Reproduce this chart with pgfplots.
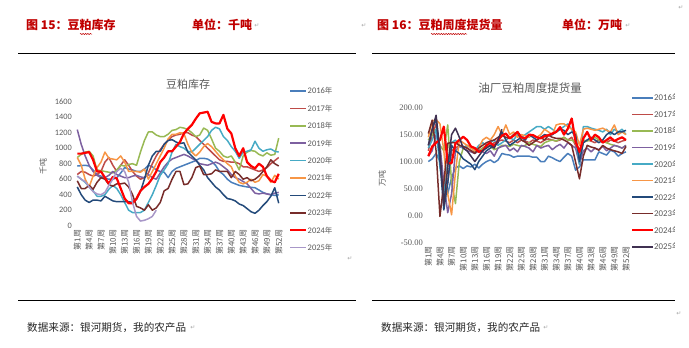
\documentclass[border=0pt]{standalone}
\usepackage{fontspec}
\usepackage{pgfplots}
\pgfplotsset{compat=1.18}
\usetikzlibrary{decorations.pathmorphing}
\setmainfont{Liberation Serif}
\newfontfamily\cjk{Noto Sans CJK SC}
\newfontfamily\carl{Carlito}
\newfontfamily\dv{DejaVu Sans}
\definecolor{c16}{HTML}{4A7EBB}
\definecolor{c17}{HTML}{BE4B48}
\definecolor{c18}{HTML}{98B954}
\definecolor{c19}{HTML}{7D60A0}
\definecolor{c20}{HTML}{46AAC5}
\definecolor{c21}{HTML}{F79646}
\definecolor{c22}{HTML}{234A7A}
\definecolor{c23}{HTML}{772C2A}
\definecolor{c24}{HTML}{FF0000}
\definecolor{c25L}{HTML}{A897C8}
\definecolor{c25R}{HTML}{403152}
\definecolor{hdr}{HTML}{C00000}
\definecolor{tg}{HTML}{595959}
\pgfplotsset{
  basechart/.style={
    scale only axis, anchor=south west,
    xmin=0.5, xmax=52.5,
    axis line style={draw=none}, tick style={draw=none},
    xtick={1,4,...,52},
    xticklabels={第1周,第4周,第7周,第10周,第13周,第16周,第19周,第22周,第25周,第28周,第31周,第34周,第37周,第40周,第43周,第46周,第49周,第52周},
    xticklabel style={rotate=90, anchor=east, font=\cjk\fontsize{8}{8}\selectfont, text=tg, inner sep=1pt},
    xticklabel shift={3pt},
    every axis plot/.append style={no markers, line width=1.5pt, line join=round},
  }
}
\begin{document}
\begin{tikzpicture}
\path[use as bounding box] (0,0) rectangle (689pt,-348pt);
% headers
\node[anchor=west, inner sep=0pt, text=hdr, font=\cjk\bfseries\fontsize{12}{12}\selectfont] at (26pt,-25pt) {图 15：豆粕库存};
\node[anchor=west, inner sep=0pt, text=hdr, font=\cjk\bfseries\fontsize{12}{12}\selectfont] at (192pt,-25pt) {单位：千吨};
\node[anchor=west, inner sep=0pt, text=hdr, font=\cjk\bfseries\fontsize{12}{12}\selectfont] at (377pt,-25pt) {图 16：豆粕周度提货量};
\node[anchor=west, inner sep=0pt, text=hdr, font=\cjk\bfseries\fontsize{12}{12}\selectfont] at (562pt,-25pt) {单位：万吨};
\draw[hdr, line width=0.5pt, decorate, decoration={snake, amplitude=0.6pt, segment length=2.4pt}] (80pt,-34pt) -- (92pt,-34pt);
\draw[hdr, line width=0.5pt, decorate, decoration={snake, amplitude=0.6pt, segment length=2.4pt}] (431pt,-34pt) -- (467pt,-34pt);
% return marks
\foreach \px/\py in {681/8, 257/26, 364/26, 628/26, 350/259, 679/314, 193/328, 546/328}
  \node[text=gray!70, font=\dv\fontsize{6}{6}\selectfont, inner sep=0pt] at (\px pt,-\py pt) {↵};
% rules
\draw[black, line width=0.8pt] (18pt,-53pt) -- (356pt,-53pt);
\draw[black, line width=0.8pt] (372pt,-53pt) -- (675pt,-53pt);
\draw[black, line width=0.8pt] (18pt,-300pt) -- (356pt,-300pt);
\draw[black, line width=0.8pt] (372pt,-300pt) -- (675pt,-300pt);
% footers
\node[anchor=west, inner sep=0pt, text=black!85, font=\cjk\fontsize{10.6}{11}\selectfont] at (27pt,-328pt) {数据来源：银河期货，我的农产品};
\node[anchor=west, inner sep=0pt, text=black!85, font=\cjk\fontsize{10.6}{11}\selectfont] at (381pt,-328pt) {数据来源：银河期货，我的农产品};
% titles and axis titles
\node[text=tg, font=\cjk\fontsize{11}{11}\selectfont] at (188pt,-84pt) {豆粕库存};
\node[text=tg, font=\cjk\fontsize{11.5}{12}\selectfont] at (530pt,-88pt) {油厂豆粕周度提货量};
\node[text=tg, rotate=90, font=\cjk\fontsize{8}{9}\selectfont] at (43pt,-166pt) {千吨};
\node[text=tg, rotate=90, font=\cjk\fontsize{8}{9}\selectfont] at (382pt,-178pt) {万吨};

% ---------------- left chart
\begin{axis}[basechart, at={(75.3pt,-225.7pt)}, width=205.4pt, height=124pt,
  ymin=0, ymax=1600, ytick={0,200,...,1600},
  yticklabels={0,200,400,600,800,1000,1200,1400,1600},
  yticklabel style={font=\carl\fontsize{8.3}{9}\selectfont, text=tg},
  clip=false]
\addplot[c16] coordinates {(1,770)(2,775)(3,780)(4,770)(5,720)(6,660)(7,640)(8,610)(9,600)(10,600)(11,620)(12,680)(13,750)(14,730)(15,720)(16,700)(17,700)(18,730)(19,780)(20,760)(21,720)(22,700)(23,690)(24,620)(25,700)(26,740)(27,760)(28,780)(29,800)(30,820)(31,840)(32,870)(33,870)(34,860)(35,830)(36,780)(37,700)(38,660)(39,600)(40,560)(41,540)(42,520)(43,510)(44,500)(45,495)(46,490)(47,460)(48,430)(49,410)(50,400)(51,390)(52,400)};
\addplot[c17] coordinates {(1,660)(2,700)(3,690)(4,660)(5,640)(6,660)(7,700)(8,820)(9,880)(10,780)(11,700)(12,780)(13,850)(14,780)(15,700)(16,640)(17,600)(18,620)(19,680)(20,800)(21,900)(22,980)(23,1050)(24,1100)(25,1150)(26,1170)(27,1180)(28,1200)(29,1200)(30,1170)(31,1150)(32,1100)(33,1050)(34,1000)(35,950)(36,900)(37,850)(38,830)(39,830)(40,820)(41,820)(42,800)(43,760)(44,760)(45,740)(46,720)(47,700)(48,720)(49,750)(50,800)(51,840)(52,880)};
\addplot[c18] coordinates {(1,880)(2,920)(3,950)(4,960)(5,900)(6,720)(7,710)(8,700)(9,690)(10,680)(11,720)(12,780)(13,770)(14,790)(15,800)(16,780)(17,950)(18,1100)(19,1210)(20,1210)(21,1170)(22,1150)(23,1150)(24,1180)(25,1230)(26,1240)(27,1270)(28,1260)(29,1240)(30,1200)(31,1150)(32,1170)(33,1260)(34,1230)(35,1120)(36,1000)(37,960)(38,900)(39,880)(40,900)(41,820)(42,720)(43,900)(44,950)(45,970)(46,960)(47,920)(48,900)(49,940)(50,910)(51,920)(52,1130)};
\addplot[c19] coordinates {(1,1240)(2,1050)(3,900)(4,780)(5,700)(6,650)(7,620)(8,620)(9,650)(10,700)(11,660)(12,640)(13,620)(14,620)(15,640)(16,650)(17,630)(18,620)(19,660)(20,620)(21,600)(22,680)(23,760)(24,820)(25,860)(26,880)(27,900)(28,920)(29,900)(30,870)(31,840)(32,800)(33,790)(34,780)(35,800)(36,820)(37,800)(38,760)(39,720)(40,660)(41,620)(42,600)(43,570)(44,540)(45,480)(46,420)(47,410)(48,420)(49,410)(50,400)(51,420)(52,430)};
\addplot[c20] coordinates {(1,640)(2,600)(3,560)(4,500)(5,450)(6,380)(7,380)(8,400)(9,470)(10,520)(11,480)(12,400)(13,300)(14,200)(15,170)(16,170)(17,170)(18,200)(19,300)(20,400)(21,520)(22,650)(23,720)(24,800)(25,950)(26,1050)(27,1020)(28,1000)(29,960)(30,950)(31,1000)(32,1050)(33,1100)(34,1150)(35,1230)(36,1270)(37,1250)(38,1150)(39,1100)(40,1020)(41,960)(42,870)(43,950)(44,960)(45,980)(46,1090)(47,1000)(48,960)(49,980)(50,990)(51,960)(52,950)};
\addplot[c21] coordinates {(1,880)(2,780)(3,600)(4,500)(5,640)(6,750)(7,820)(8,950)(9,870)(10,860)(11,850)(12,900)(13,820)(14,700)(15,700)(16,700)(17,690)(18,730)(19,600)(20,700)(21,800)(22,900)(23,1000)(24,1120)(25,1180)(26,1180)(27,1200)(28,1190)(29,1050)(30,950)(31,900)(32,950)(33,1020)(34,1060)(35,1020)(36,960)(37,900)(38,850)(39,800)(40,760)(41,640)(42,560)(43,540)(44,560)(45,600)(46,560)(47,580)(48,660)(49,640)(50,560)(51,650)(52,600)};
\addplot[c22] coordinates {(1,500)(2,400)(3,330)(4,300)(5,330)(6,330)(7,320)(8,380)(9,350)(10,320)(11,310)(12,310)(13,310)(14,310)(15,300)(16,340)(17,440)(18,600)(19,780)(20,900)(21,960)(22,960)(23,1050)(24,1100)(25,1110)(26,1080)(27,1060)(28,1070)(29,950)(30,900)(31,850)(32,780)(33,720)(34,620)(35,560)(36,500)(37,460)(38,400)(39,350)(40,340)(41,320)(42,280)(43,260)(44,220)(45,180)(46,160)(47,200)(48,260)(49,310)(50,380)(51,490)(52,290)};
\addplot[c23] coordinates {(1,580)(2,480)(3,480)(4,520)(5,470)(6,560)(7,620)(8,600)(9,530)(10,510)(11,540)(12,540)(13,550)(14,500)(15,400)(16,250)(17,230)(18,200)(19,270)(20,200)(21,230)(22,300)(23,450)(24,480)(25,600)(26,700)(27,700)(28,530)(29,540)(30,620)(31,750)(32,770)(33,660)(34,660)(35,670)(36,720)(37,700)(38,700)(39,700)(40,620)(41,700)(42,660)(43,600)(44,620)(45,580)(46,600)(47,640)(48,700)(49,760)(50,850)(51,800)(52,770)};
\addplot[c24, line width=2.2pt] coordinates {(1,930)(2,930)(3,940)(4,950)(5,850)(6,700)(7,700)(8,620)(9,540)(10,630)(11,610)(12,480)(13,350)(14,290)(15,290)(16,350)(17,450)(18,500)(19,540)(20,610)(21,700)(22,820)(23,880)(24,960)(25,960)(26,1020)(27,1080)(28,1190)(29,1250)(30,1300)(31,1380)(32,1450)(33,1460)(34,1470)(35,1340)(36,1320)(37,1320)(38,1430)(39,1250)(40,1190)(41,1000)(42,900)(43,1000)(44,820)(45,770)(46,740)(47,800)(48,760)(49,640)(50,580)(51,560)(52,670)};
\addplot[c25L] coordinates {(1,640)(2,600)(3,570)(4,500)(5,440)(6,410)(7,400)(8,430)(9,520)(10,600)(11,700)(12,740)(13,700)(14,560)(15,300)(16,120)(17,60)(18,70)(19,90)(20,120)(21,200)};
\end{axis}

% ---------------- right chart
\begin{axis}[basechart, at={(426.4pt,-242.3pt)}, width=201.5pt, height=134.6pt,
  ymin=-50, ymax=200, ytick={-50,0,50,100,150,200},
  yticklabels={-50.00,0.00,50.00,100.00,150.00,200.00},
  yticklabel style={font=\fontsize{8.5}{9}\selectfont, text=tg},
  clip=false]
\addplot[c16] coordinates {(1,100)(2,105)(3,115)(4,100)(5,55)(6,40)(7,70)(8,88)(9,92)(10,87)(11,92)(12,90)(13,95)(14,88)(15,95)(16,100)(17,103)(18,98)(19,103)(20,115)(21,113)(22,112)(23,108)(24,110)(25,110)(26,110)(27,110)(28,108)(29,108)(30,100)(31,100)(32,110)(33,107)(34,103)(35,100)(36,108)(37,115)(38,110)(39,84)(40,90)(41,103)(42,103)(43,103)(44,103)(45,118)(46,115)(47,112)(48,121)(49,118)(50,110)(51,115)(52,118)};
\addplot[c17] coordinates {(1,120)(2,150)(3,170)(4,120)(5,30)(6,60)(7,120)(8,125)(9,130)(10,128)(11,125)(12,120)(13,118)(14,120)(15,125)(16,128)(17,130)(18,135)(19,138)(20,140)(21,138)(22,135)(23,140)(24,135)(25,140)(26,138)(27,135)(28,140)(29,138)(30,135)(31,140)(32,142)(33,140)(34,138)(35,140)(36,145)(37,140)(38,145)(39,130)(40,110)(41,135)(42,140)(43,138)(44,135)(45,140)(46,138)(47,135)(48,140)(49,138)(50,135)(51,138)(52,140)};
\addplot[c18] coordinates {(1,140)(2,150)(3,160)(4,130)(5,120)(6,168)(7,60)(8,22)(9,100)(10,125)(11,130)(12,128)(13,120)(14,118)(15,125)(16,130)(17,128)(18,122)(19,125)(20,130)(21,130)(22,128)(23,132)(24,130)(25,128)(26,130)(27,135)(28,132)(29,130)(30,128)(31,135)(32,138)(33,140)(34,138)(35,142)(36,145)(37,140)(38,140)(39,135)(40,120)(41,140)(42,138)(43,142)(44,145)(45,140)(46,138)(47,135)(48,132)(49,130)(50,128)(51,125)(52,130)};
\addplot[c19] coordinates {(1,110)(2,120)(3,150)(4,130)(5,60)(6,5)(7,40)(8,120)(9,128)(10,125)(11,120)(12,118)(13,115)(14,120)(15,118)(16,115)(17,120)(18,110)(19,125)(20,128)(21,130)(22,120)(23,125)(24,118)(25,130)(26,128)(27,125)(28,118)(29,130)(30,125)(31,128)(32,130)(33,122)(34,128)(35,132)(36,125)(37,135)(38,130)(39,125)(40,95)(41,120)(42,125)(43,118)(44,125)(45,122)(46,128)(47,120)(48,125)(49,130)(50,128)(51,125)(52,130)};
\addplot[c20] coordinates {(1,125)(2,140)(3,160)(4,90)(5,40)(6,100)(7,135)(8,140)(9,130)(10,125)(11,130)(12,125)(13,120)(14,130)(15,135)(16,130)(17,135)(18,140)(19,130)(20,135)(21,140)(22,145)(23,140)(24,150)(25,145)(26,150)(27,155)(28,160)(29,165)(30,165)(31,160)(32,165)(33,160)(34,155)(35,160)(36,165)(37,170)(38,160)(39,140)(40,95)(41,165)(42,165)(43,162)(44,160)(45,158)(46,155)(47,160)(48,150)(49,160)(50,155)(51,160)(52,150)};
\addplot[c21] coordinates {(1,145)(2,175)(3,178)(4,170)(5,120)(6,40)(7,1)(8,80)(9,140)(10,135)(11,130)(12,125)(13,120)(14,125)(15,140)(16,145)(17,140)(18,150)(19,165)(20,150)(21,168)(22,150)(23,155)(24,145)(25,150)(26,148)(27,145)(28,150)(29,145)(30,150)(31,160)(32,155)(33,150)(34,168)(35,170)(36,170)(37,165)(38,160)(39,155)(40,130)(41,160)(42,162)(43,160)(44,158)(45,160)(46,162)(47,158)(48,155)(49,168)(50,150)(51,155)(52,150)};
\addplot[c22] coordinates {(1,130)(2,160)(3,180)(4,100)(5,10)(6,60)(7,130)(8,120)(9,115)(10,105)(11,100)(12,95)(13,85)(14,100)(15,110)(16,120)(17,125)(18,130)(19,135)(20,155)(21,140)(22,130)(23,135)(24,140)(25,145)(26,140)(27,150)(28,145)(29,140)(30,145)(31,150)(32,148)(33,150)(34,155)(35,160)(36,158)(37,150)(38,155)(39,150)(40,100)(41,135)(42,140)(43,145)(44,140)(45,135)(46,140)(47,150)(48,155)(49,150)(50,155)(51,155)(52,158)};
\addplot[c23] coordinates {(1,152)(2,177)(3,120)(4,-2)(5,60)(6,134)(7,135)(8,135)(9,130)(10,128)(11,125)(12,120)(13,115)(14,125)(15,130)(16,135)(17,138)(18,140)(19,145)(20,149)(21,145)(22,143)(23,150)(24,155)(25,140)(26,136)(27,130)(28,135)(29,140)(30,145)(31,140)(32,149)(33,145)(34,143)(35,143)(36,140)(37,136)(38,130)(39,99)(40,68)(41,110)(42,130)(43,127)(44,125)(45,121)(46,130)(47,125)(48,122)(49,120)(50,118)(51,115)(52,128)};
\addplot[c24, line width=2.2pt] coordinates {(1,110)(2,128)(3,135)(4,140)(5,165)(6,97)(7,97)(8,134)(9,140)(10,146)(11,140)(12,128)(13,125)(14,118)(15,120)(16,130)(17,135)(18,128)(19,140)(20,148)(21,152)(22,143)(23,148)(24,155)(25,145)(26,143)(27,150)(28,149)(29,145)(30,143)(31,147)(32,149)(33,152)(34,155)(35,164)(36,150)(37,161)(38,180)(39,137)(40,118)(41,143)(42,155)(43,140)(44,150)(45,145)(46,135)(47,140)(48,145)(49,138)(50,142)(51,145)(52,140)};
\addplot[c25R] coordinates {(1,130)(2,160)(3,186)(4,120)(5,19)(6,90)(7,150)(8,162)(9,145)(10,125)(11,120)(12,110)(13,100)(14,110)(15,120)(16,125)(17,130)(18,125)(19,140)(20,160)};
\end{axis}

% legends
\foreach \c/\t/\w [count=\i from 0] in {c16/2016/1.5,c17/2017/1.5,c18/2018/1.5,c19/2019/1.5,c20/2020/1.5,c21/2021/1.5,c22/2022/1.5,c23/2023/1.5,c24/2024/2.2,c25L/2025/1.5} {
  \draw[\c, line width=\w pt] (290pt,{-91pt-\i*17.4pt}) -- (306pt,{-91pt-\i*17.4pt});
  \node[anchor=west, inner sep=0pt, text=tg] at (307.5pt,{-91pt-\i*17.4pt}) {\carl\fontsize{8.5}{9}\selectfont\t{\cjk\fontsize{7.5}{8}\selectfont 年}};
}
\begin{scope}
\clip (620pt,0pt) rectangle (674pt,-348pt);
\foreach \c/\t/\w [count=\i from 0] in {c16/2016/1.5,c17/2017/1.5,c18/2018/1.5,c19/2019/1.5,c20/2020/1.5,c21/2021/1.5,c22/2022/1.5,c23/2023/1.5,c24/2024/2.2,c25R/2025/1.5} {
  \draw[\c, line width=\w pt] (632.3pt,{-97.8pt-\i*16.55pt}) -- (652.5pt,{-97.8pt-\i*16.55pt});
  \node[anchor=west, inner sep=0pt, text=tg] at (654pt,{-97.8pt-\i*16.55pt}) {\carl\fontsize{8.8}{9}\selectfont\t{\cjk\fontsize{8}{8}\selectfont 年}};
}
\end{scope}
\end{tikzpicture}
\end{document}
